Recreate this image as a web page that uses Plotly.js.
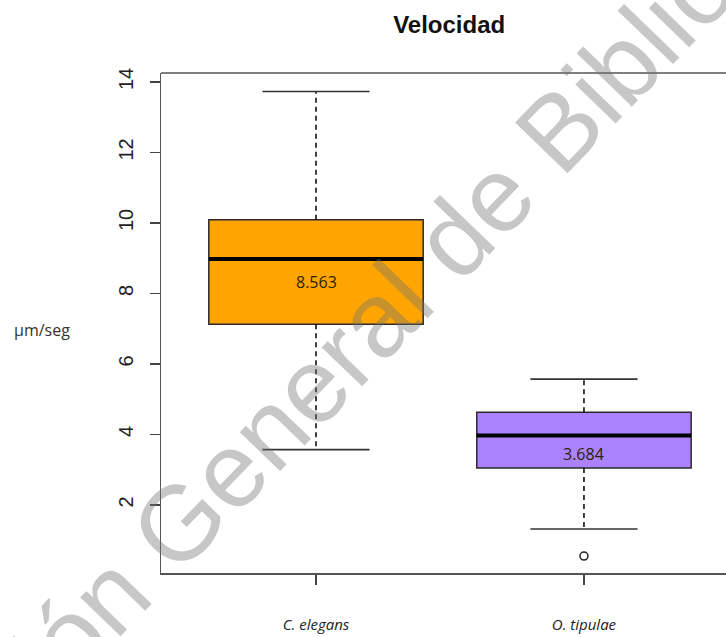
<!DOCTYPE html>
<html>
<head>
<meta charset="utf-8">
<script src="https://cdn.plot.ly/plotly-3.0.1.min.js"></script>
<style>html,body{margin:0;padding:0;background:#fff;}#chart{width:726px;height:637px;}</style>
</head>
<body>
<div id="chart"></div>
<script>
// ---- data ----
const categories = ["C. elegans", "O. tipulae"];
const positions = [1, 2];
const q1 = [7.13, 3.05];
const medians = [8.98, 3.97];
const q3 = [10.09, 4.63];
const whiskerLow = [3.57, 1.32];
const whiskerHigh = [13.73, 5.57];
const means = [8.563, 3.684];
const outlierX = [2];
const outlierY = [0.55];
const boxColors = ["#FFA500", "#AB82FF"];
const yTicks = [2, 4, 6, 8, 10, 12, 14];

const BOX_W = 0.8;       // box width in category units
const CAP_FRAC = 0.5;    // cap width relative to box

const traces = [];
for (let i = 0; i < categories.length; i++) {
  traces.push({
    type: "box",
    x: [positions[i]],
    q1: [q1[i]], median: [medians[i]], q3: [q3[i]],
    lowerfence: [q1[i]], upperfence: [q3[i]],
    width: BOX_W,
    fillcolor: boxColors[i],
    line: {color: "#2a2a2a", width: 1.5},
    whiskerwidth: 0,
    boxpoints: false,
    hoverinfo: "skip",
    showlegend: false
  });
  // dashed whiskers
  traces.push({
    type: "scatter", mode: "lines",
    x: [positions[i], positions[i], null, positions[i], positions[i]],
    y: [q3[i], whiskerHigh[i], null, q1[i], whiskerLow[i]],
    line: {color: "#111", width: 1.6, dash: "5px,4px"},
    hoverinfo: "skip", showlegend: false
  });
  // caps
  const h = BOX_W * CAP_FRAC / 2;
  traces.push({
    type: "scatter", mode: "lines",
    x: [positions[i] - h, positions[i] + h, null, positions[i] - h, positions[i] + h],
    y: [whiskerHigh[i], whiskerHigh[i], null, whiskerLow[i], whiskerLow[i]],
    line: {color: "#333", width: 1.6},
    hoverinfo: "skip", showlegend: false
  });
  // thick median
  traces.push({
    type: "scatter", mode: "lines",
    x: [positions[i] - BOX_W / 2, positions[i] + BOX_W / 2],
    y: [medians[i], medians[i]],
    line: {color: "#000", width: 4},
    hoverinfo: "skip", showlegend: false
  });
}
traces.push({
  type: "scatter", mode: "markers",
  x: outlierX, y: outlierY,
  marker: {symbol: "circle-open", size: 8, color: "#222", line: {width: 1.5}},
  hoverinfo: "skip", showlegend: false
});

const annotations = means.map((m, i) => ({
  x: positions[i], y: m, xref: "x", yref: "y",
  text: m.toFixed(3), showarrow: false, yshift: -8,
  font: {family: "Open Sans, sans-serif", size: 16, color: "#2a2200"}
}));
annotations.push({
  xref: "paper", yref: "paper", x: -0.21, y: 0.486,
  text: "µm/seg", showarrow: false, xanchor: "center", yanchor: "middle",
  font: {family: "Open Sans, sans-serif", size: 16, color: "#333"}
});
// watermark
annotations.push({
  xref: "paper", yref: "paper", x: 0.347, y: 0.47,
  text: "Dirección General de Bibliotecas", showarrow: false,
  xanchor: "center", yanchor: "middle", textangle: -46,
  font: {family: "Liberation Sans, Arial, sans-serif", size: 106, color: "rgba(115,115,115,0.4)"}
});

const layout = {
  width: 726, height: 637,
  margin: {l: 161, r: 0, t: 73, b: 64},
  paper_bgcolor: "#fff", plot_bgcolor: "#fff",
  title: {
    text: "<b>Velocidad</b>", xref: "paper", x: 0.51, xanchor: "center",
    yref: "container", y: 0.962, yanchor: "middle",
    font: {family: "Liberation Sans, Arial, sans-serif", size: 24, color: "#111"}
  },
  xaxis: {
    range: [0.4216, 2.530], tickvals: positions,
    ticktext: categories.map(c => "<i>" + c + "</i>"),
    showgrid: false, zeroline: false, showline: true, linecolor: "#555", linewidth: 1.5,
    ticks: "outside", ticklen: 10, tickcolor: "#444", tickwidth: 1.5,
    ticklabelstandoff: 27,
    tickfont: {family: "Open Sans, sans-serif", size: 15, color: "#222"}
  },
  yaxis: {
    range: [0.071, 14.255], tickvals: yTicks,
    showgrid: false, zeroline: false, showline: true, linecolor: "#555", linewidth: 1.5,
    ticks: "outside", ticklen: 10, tickcolor: "#444", tickwidth: 1.5,
    tickangle: -90, ticklabelstandoff: 9,
    tickfont: {family: "Liberation Sans, Arial, sans-serif", size: 20, color: "#222"}
  },
  shapes: [{
    type: "line", xref: "paper", yref: "paper", x0: 0, x1: 1, y0: 1, y1: 1,
    line: {color: "#555", width: 1.5}
  }],
  annotations: annotations,
  showlegend: false
};

Plotly.newPlot("chart", traces, layout, {displayModeBar: false, staticPlot: true});
</script>
</body>
</html>
